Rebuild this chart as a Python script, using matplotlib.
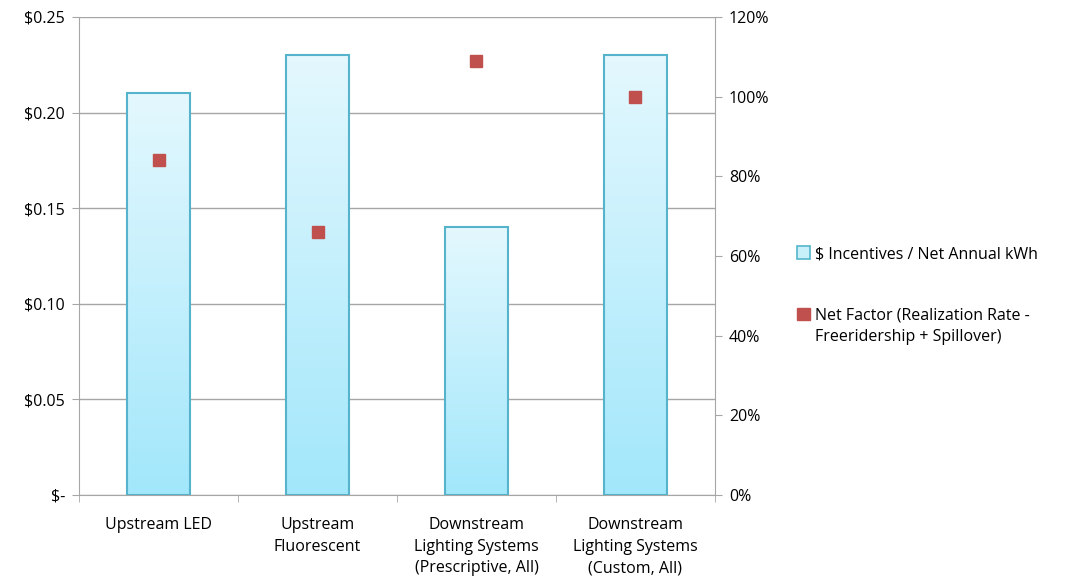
import numpy as np
import matplotlib.pyplot as plt
from matplotlib.colors import LinearSegmentedColormap
from matplotlib.patches import Patch
from matplotlib.ticker import FuncFormatter, PercentFormatter

categories = ['Upstream LED', 'Upstream\nFluorescent',
              'Downstream\nLighting Systems\n(Prescriptive, All)',
              'Downstream\nLighting Systems\n(Custom, All)']
incentives = [0.21, 0.23, 0.14, 0.23]        # $ / net annual kWh
net_factor = [0.84, 0.66, 1.09, 1.00]        # fraction

plt.rcParams['font.family'] = ['Open Sans', 'DejaVu Sans']
plt.rcParams['font.size'] = 11.5

grey = '#a6a6a6'
edge = '#55b4cc'
fig = plt.figure(figsize=(10.65, 5.84), dpi=100)
ax = fig.add_axes([79 / 1065, 89 / 584, 636 / 1065, 478 / 584])

x = np.arange(len(categories))
bars = ax.bar(x, incentives, width=0.4, facecolor='none', edgecolor=edge,
              linewidth=1.5, zorder=3)

# vertical gradient inside each bar
cmap = LinearSegmentedColormap.from_list('aqua', ['#a2e7fb', '#e4f8fe'])
grad = np.linspace(0, 1, 256).reshape(-1, 1)
for b in bars:
    x0, y0 = b.get_x(), b.get_y()
    im = ax.imshow(grad, cmap=cmap, origin='lower', aspect='auto',
                   extent=[x0, x0 + b.get_width(), y0, y0 + b.get_height()],
                   zorder=2)
    im.set_clip_path(b)

ax.set_xlim(-0.5, len(categories) - 0.5)
ax.set_ylim(0, 0.25)
ax.set_yticks(np.arange(0, 0.251, 0.05))
ax.yaxis.set_major_formatter(FuncFormatter(lambda v, p: '$-' if v == 0 else f'${v:.2f}'))
ax.yaxis.grid(True, color=grey, linewidth=1, zorder=0)
ax.set_axisbelow(True)

ax.set_xticks(x)
ax.set_xticklabels(categories, linespacing=1.45)
ax.set_xticks(np.arange(-0.5, len(categories)), minor=True)
ax.tick_params(axis='x', which='major', length=0, pad=16)
ax.tick_params(axis='x', which='minor', length=5, color=grey)
ax.tick_params(axis='y', length=5, color=grey, pad=5)

for s in ['top', 'right']:
    ax.spines[s].set_visible(False)
for s in ['left', 'bottom']:
    ax.spines[s].set_color(grey)

ax2 = ax.twinx()
ax2.set_ylim(0, 1.2)
ax2.set_yticks(np.arange(0, 1.21, 0.2))
ax2.yaxis.set_major_formatter(PercentFormatter(1.0, decimals=0))
ax2.tick_params(axis='y', length=5, color=grey, pad=5)
for s in ['top', 'left', 'bottom']:
    ax2.spines[s].set_visible(False)
ax2.spines['right'].set_color(grey)
ax2.plot(x, net_factor, linestyle='none', marker='s', markersize=9,
         color='#c0504d', zorder=4)

# legend: Excel puts the marker beside the first line of a wrapped label
leg_kw = dict(loc='center left', frameon=False, handlelength=0.8,
              handleheight=0.8, handletextpad=0.3)
fig.legend([Patch(facecolor='#c8f0fa', edgecolor=edge, linewidth=1.2)],
           ['$ Incentives / Net Annual kWh'],
           bbox_to_anchor=(0.735, 1 - 254 / 584), **leg_kw)
fig.legend([Patch(facecolor='#c0504d', edgecolor='#c0504d'),
            Patch(facecolor='none', edgecolor='none')],
           ['Net Factor (Realization Rate -', 'Freeridership + Spillover)'],
           bbox_to_anchor=(0.735, 1 - 326 / 584), labelspacing=0.35, **leg_kw)

fig.savefig('out.png', dpi=100)
